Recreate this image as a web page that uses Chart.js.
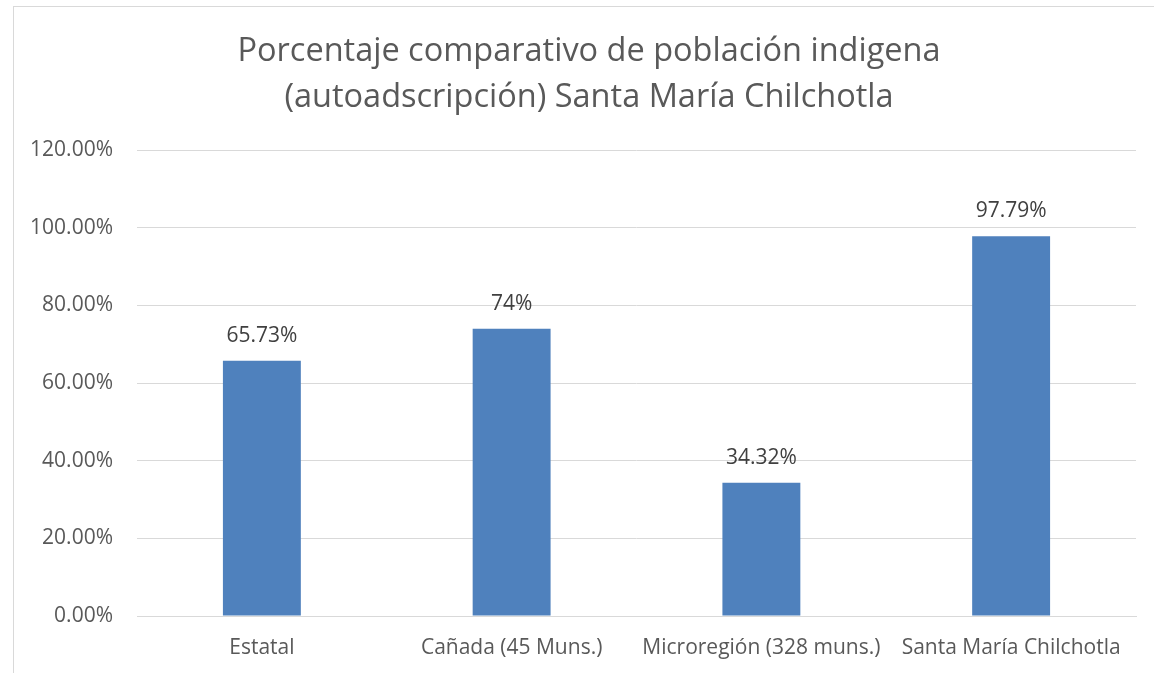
<!DOCTYPE html>
<html>
<head>
<meta charset="utf-8">
<script src="https://cdn.jsdelivr.net/npm/chart.js@4"></script>
<style>
  html, body { margin: 0; padding: 0; background: #ffffff; overflow: hidden; }
  #frame { position: absolute; left: 13px; top: 6px; width: 1170px; height: 700px; border: 1px solid #d9d9d9; box-sizing: border-box; }
  #wrap { position: absolute; left: 0; top: 0; width: 1154px; height: 673px; }
</style>
</head>
<body>
<div id="frame"></div>
<div id="wrap"><canvas id="c" width="1154" height="673"></canvas></div>
<script>
const categories = ["Estatal", "Cañada (45 Muns.)", "Microregión (328 muns.)", "Santa María Chilchotla"];
const values = [0.6573, 0.74, 0.3432, 0.9779];
const valueLabels = ["65.73%", "74%", "34.32%", "97.79%"];
const titleLines = ["Porcentaje comparativo de población indigena", "(autoadscripción) Santa María Chilchotla"];
const yTickMin = 0, yTickMax = 1.2, yTickStep = 0.2;

const FONT = "'Open Sans', 'DejaVu Sans', sans-serif";

const dataLabelPlugin = {
  id: 'dataLabels',
  afterDatasetsDraw(chart) {
    const ctx = chart.ctx;
    const meta = chart.getDatasetMeta(0);
    ctx.save();
    ctx.font = "21px " + FONT;
    ctx.fillStyle = "#404040";
    ctx.textAlign = "center";
    ctx.textBaseline = "middle";
    meta.data.forEach((bar, i) => {
      ctx.fillText(valueLabels[i], bar.x, bar.y - 25);
    });
    ctx.restore();
  }
};

const titlePlugin = {
  id: 'customTitle',
  afterDraw(chart) {
    const ctx = chart.ctx;
    ctx.save();
    ctx.font = "32.5px " + FONT;
    ctx.fillStyle = "#595959";
    ctx.textAlign = "center";
    ctx.textBaseline = "middle";
    titleLines.forEach((line, i) => {
      ctx.fillText(line, 589, 52 + i * 46);
    });
    ctx.restore();
  }
};

new Chart(document.getElementById('c'), {
  type: 'bar',
  data: {
    labels: categories,
    datasets: [{
      data: values,
      backgroundColor: '#4F81BD',
      borderWidth: 0,
      barPercentage: 0.312,
      categoryPercentage: 1.0
    }]
  },
  options: {
    responsive: false,
    animation: false,
    devicePixelRatio: 1,
    layout: { padding: { left: 13, right: 18, top: 150, bottom: 0 } },
    plugins: {
      legend: { display: false },
      tooltip: { enabled: false },
      title: { display: false }
    },
    scales: {
      x: {
        grid: { display: false, drawTicks: false },
        border: { display: true, color: '#d9d9d9', width: 1 },
        ticks: { color: '#595959', font: { family: FONT, size: 21 }, padding: 19, maxRotation: 0, autoSkip: false },
        afterFit(scale) { scale.height = 673 - 616; }
      },
      y: {
        min: yTickMin,
        max: yTickMax,
        grid: { color: '#d9d9d9', lineWidth: 1, drawTicks: false },
        border: { display: false },
        ticks: {
          stepSize: yTickStep,
          color: '#595959',
          font: { family: FONT, size: 21 },
          padding: 24,
          callback: (v) => (v * 100).toFixed(2) + '%'
        },
        afterFit(scale) { scale.width = 124; }
      }
    }
  },
  plugins: [dataLabelPlugin, titlePlugin]
});
</script>
</body>
</html>
